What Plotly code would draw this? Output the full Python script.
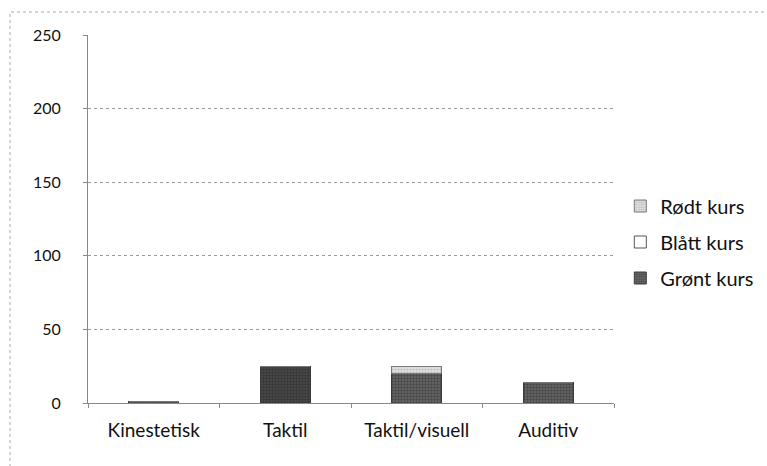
import plotly.graph_objects as go

categories = ["Kinestetisk", "Taktil", "Taktil/visuell", "Auditiv"]
gront = [1, 25, 20, 14]
blatt = [0, 0, 0, 0]
rodt = [0, 0, 5, 0]
y_ticks = [0, 50, 100, 150, 200, 250]

font = dict(family="Lato, Open Sans, sans-serif", size=18, color="#111111")

fig = go.Figure()
fig.add_trace(go.Bar(
    x=categories, y=gront, name="Grønt kurs", legendgroup="g", legendrank=3,
    marker=dict(color="#555555", line=dict(color="#3a3a3a", width=1),
                pattern=dict(shape=".", fgcolor="#222222",
                             bgcolor=["#707070", "#4a4a4a", "#6a6a6a", "#6a6a6a"],
                             size=3, solidity=0.5)),
))
fig.add_trace(go.Bar(
    x=categories, y=blatt, name="Blått kurs", legendgroup="b", legendrank=2,
    marker=dict(color="#ffffff", line=dict(color="#555555", width=1)),
))
fig.add_trace(go.Bar(
    x=categories, y=rodt, name="Rødt kurs", legendgroup="r", legendrank=1,
    marker=dict(color="#c8c8c8", line=dict(color="#777777", width=1),
                pattern=dict(shape=".", fgcolor="#8a8a8a", bgcolor="#e4e4e4", size=3, solidity=0.4)),
))

fig.update_layout(
    barmode="stack",
    bargap=0.62,
    width=767, height=466,
    margin=dict(l=88, r=153, t=35, b=63, autoexpand=False),
    paper_bgcolor="white", plot_bgcolor="white",
    font=font,
    showlegend=True,
    legend=dict(x=1.012, y=(403 - 242) / 368, xanchor="left", yanchor="middle",
                traceorder="grouped", font=dict(size=20),
                itemwidth=30, tracegroupgap=7),
    xaxis=dict(type="category", tickson="boundaries", ticks="outside", ticklen=4,
               tickcolor="#888888", showline=True, linecolor="#888888", linewidth=1,
               showgrid=False, tickfont=dict(size=19), ticklabelstandoff=10),
    yaxis=dict(range=[0, 250], tickvals=y_ticks, showgrid=True, gridcolor="#9a9a9a",
               griddash="dot", gridwidth=1, showline=True, linecolor="#888888",
               ticks="outside", ticklen=4, tickcolor="#888888", tickfont=dict(size=16),
               zeroline=False, ticklabelstandoff=19),
    shapes=[dict(type="rect", xref="paper", yref="paper",
                 x0=(10 - 88) / 526, x1=(790 - 88) / 526,
                 y0=(403 - 490) / 368, y1=(403 - 12) / 368,
                 line=dict(color="#aaaaaa", width=1, dash="dot"))],
)

fig.write_html("out.html")
